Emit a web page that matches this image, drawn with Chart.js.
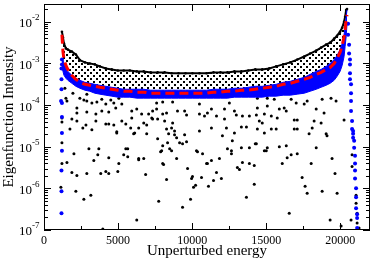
<!DOCTYPE html>
<html>
<head>
<meta charset="utf-8">
<script src="https://cdn.jsdelivr.net/npm/chart.js@4.4.0/dist/chart.umd.min.js"></script>
<style>
  body { margin: 0; background: #fff; }
  #wrap { width: 374px; height: 263px; }
</style>
</head>
<body>
<div id="wrap"><canvas id="c" width="374" height="263"></canvas></div>
<script>
// energy grid shared by the upper envelope, the blue band and the red curve
const gridEnergy = [1210,1280,1350,1480,1610, 1880,2150,2420,2760,3090, 3430,3770,4170,4570,4980,
  5380,5790,6260,6730,7200, 7670,8140,8610,9080,9550, 10020,10490,10970,11440,11910,
  12380,12850,13320,13790,14260, 14730,15200,15670,16140,16620, 17090,17560,17960,18370,18700,
  19040,19310,19580,19780,19980, 20120,20250,20320,20390,20450];

// top of the black cloud
const envelope = [5.8e-3,4.2e-3,3.0e-3,2.3e-3,2.15e-3, 1.93e-3,1.64e-3,1.2e-3,1.06e-3,1.0e-3,
  9.5e-4,8.5e-4,7.6e-4,7.2e-4,6.8e-4, 6.8e-4,6.8e-4,6.45e-4,6.45e-4,6.1e-4,
  6.1e-4,6.1e-4,5.8e-4,5.8e-4,5.8e-4, 5.8e-4,5.8e-4,5.8e-4,6.1e-4,6.1e-4,
  6.1e-4,6.45e-4,6.45e-4,6.8e-4,7.2e-4, 7.2e-4,7.6e-4,8.5e-4,9.5e-4,1.06e-3,
  1.24e-3,1.47e-3,1.73e-3,2.04e-3,2.4e-3, 2.83e-3,3.16e-3,3.94e-3,4.64e-3,5.8e-3,
  7.2e-3,1.0e-2,1.32e-2,1.93e-2,2.04e-2];

// blue band (upper and lower edge)
const bandTop = [1.3e-3,1.2e-3,1.0e-3,7.6e-4,6.45e-4, 5.18e-4,4.4e-4,3.94e-4,3.53e-4,3.34e-4,
  3.16e-4,2.99e-4,2.83e-4,2.68e-4,2.54e-4, 2.4e-4,2.4e-4,2.4e-4,2.4e-4,2.28e-4,
  2.28e-4,2.28e-4,2.28e-4,2.28e-4,2.28e-4, 2.28e-4,2.28e-4,2.28e-4,2.4e-4,2.4e-4,
  2.4e-4,2.54e-4,2.54e-4,2.68e-4,2.83e-4, 2.83e-4,2.99e-4,3.16e-4,3.53e-4,3.73e-4,
  4.16e-4,4.64e-4,5.47e-4,6.45e-4,7.2e-4, 8.48e-4,1.0e-3,1.24e-3,1.55e-3,2.15e-3,
  2.99e-3,4.9e-3,7.6e-3,1.32e-2,1.93e-2];
const bandBottom = [8.0e-4,6.45e-4,5.18e-4,4.4e-4,3.94e-4, 3.34e-4,2.83e-4,2.54e-4,2.28e-4,2.15e-4,
  1.93e-4,1.83e-4,1.73e-4,1.64e-4,1.55e-4, 1.55e-4,1.55e-4,1.47e-4,1.47e-4,1.47e-4,
  1.47e-4,1.47e-4,1.47e-4,1.47e-4,1.47e-4, 1.47e-4,1.47e-4,1.47e-4,1.47e-4,1.47e-4,
  1.47e-4,1.55e-4,1.55e-4,1.55e-4,1.55e-4, 1.55e-4,1.64e-4,1.64e-4,1.73e-4,1.73e-4,
  1.83e-4,1.93e-4,2.15e-4,2.4e-4,2.68e-4, 2.99e-4,3.34e-4,3.94e-4,4.9e-4,6.45e-4,
  8.96e-4,1.47e-3,2.54e-3,4.4e-3,8.96e-3];

// red dashed curve
const redCurve = [4.9e-3,1.93e-3,1.24e-3,8.96e-4,7.2e-4, 5.18e-4,4.16e-4,3.53e-4,3.16e-4,2.99e-4,
  2.83e-4,2.68e-4,2.54e-4,2.4e-4,2.28e-4, 2.15e-4,2.15e-4,2.04e-4,2.04e-4,1.93e-4,
  1.93e-4,1.93e-4,1.93e-4,1.93e-4,1.93e-4, 1.93e-4,1.93e-4,1.93e-4,2.04e-4,2.04e-4,
  2.15e-4,2.15e-4,2.28e-4,2.28e-4,2.4e-4, 2.54e-4,2.68e-4,2.83e-4,3.16e-4,3.34e-4,
  3.73e-4,4.16e-4,4.64e-4,5.47e-4,6.11e-4, 7.2e-4,8.03e-4,1.0e-3,1.32e-3,1.83e-3,
  2.68e-3,4.4e-3,6.45e-3,1.12e-2,1.47e-2];

// blue points falling off at both ends
const blueEnds = [
  [1210,1.24e-3],[1210,9.5e-4],[1180,7.6e-4],[1180,4.16e-4],[1180,2.4e-4],[1150,1.25e-4],
  [1210,1.12e-4],[1210,5.18e-5],[1210,2.15e-5],[1210,8.03e-6],[1180,2.68e-6],[1180,8.48e-7],[1180,2.54e-7],
  [20520,8.96e-3],[20520,4.9e-3],[20590,2.83e-3],[20590,1.73e-3],[20650,1.24e-3],[20650,9.46e-4],
  [20650,5.78e-4],[20650,4.16e-4],[20720,3.16e-4],[20720,1.93e-4],[20720,1.25e-4],[20720,7.2e-5],
  [20790,4.16e-5],[20790,2.68e-5],[20860,2.4e-5],[20860,2.04e-5],[20860,1.64e-5],[20930,1.39e-5],
  [20930,9.47e-6],[20990,6.11e-6],[20990,3.94e-6],[20990,2.68e-6],[20990,1.73e-6],[21060,1.0e-6],
  [21060,6.11e-7],[21060,3.34e-7],[21130,2.4e-7],[21130,1.93e-7],[21130,1.12e-7]
];

// scattered black points below the band
const blackScatter = [
  [1480,1.47e-4],[2690,1.32e-4],[2890,1.25e-4],[3230,1.12e-4],[3570,1.18e-4],[3900,1.39e-4],[4170,1.06e-4],
  [4510,1.32e-4],[4710,1.12e-4],[5050,1.47e-4],[2220,6.45e-5],[2890,6.81e-5],[3500,6.11e-5],[3900,7.2e-5],
  [4370,6.81e-5],[4840,8.48e-5],[5250,1.06e-4],[5920,7.2e-5],[6260,8.03e-5],[6590,6.11e-5],[7060,6.11e-5],
  [7270,4.9e-5],[1210,3.94e-5],[2220,4.16e-5],[2830,3.34e-5],[3500,4.16e-5],[3230,2.54e-5],[4170,3.53e-5],
  [4370,3.53e-5],[4710,3.34e-5],[4910,2.28e-5],[5250,4.16e-5],[5520,3.53e-5],[5850,2.83e-5],[5920,4.9e-5],
  [6050,2.04e-5],[6390,2.83e-5],[6730,3.73e-5],[6930,3.34e-5],[1210,1.24e-5],[3030,8.96e-6],[3700,8.96e-6],
  [2020,6.81e-6],[5520,8.96e-6],[5380,6.45e-6],[4370,5.47e-6],[3360,4.64e-6],[1550,4.16e-6],[6390,5.18e-6],
  [6730,5.18e-6],[1210,3.94e-6],
  [7600,1.12e-4],[8010,1.18e-4],[8680,1.18e-4],[7330,7.2e-5],[7600,8.03e-5],[8010,6.11e-5],[8270,6.45e-5],
  [9010,7.2e-5],[9490,7.2e-5],[9620,5.78e-5],[10490,1.06e-4],[10490,6.11e-5],[10830,5.47e-5],[11030,6.45e-5],
  [11300,8.03e-5],[11640,5.47e-5],[12180,8.03e-5],[12510,1.12e-4],[12850,7.2e-5],[12180,4.64e-5],[12980,5.78e-5],
  [13390,5.47e-5],[13860,5.47e-5],[14330,5.78e-5],[7330,4.64e-5],[7670,4.64e-5],[8140,4.16e-5],[8680,3.73e-5],
  [8270,2.68e-5],[8610,2.83e-5],[8810,2.4e-5],[9490,1.93e-5],[10490,2.4e-5],[11300,2.83e-5],[12310,2.83e-5],
  [12850,2.15e-5],[13320,2.99e-5],[13660,2.99e-5],[14400,2.68e-5],[7670,1.55e-5],[8340,1.24e-5],[9150,1.24e-5],
  [9350,1.18e-5],[12040,1.83e-5],[12710,1.39e-5],[8010,1.06e-5],[8480,8.96e-6],[7940,8.03e-6],[8610,8.03e-6],
  [10290,8.03e-6],[10700,6.81e-6],[12380,8.96e-6],[12650,8.03e-6],[13320,9.47e-6],[13860,9.47e-6],[8950,5.18e-6],
  [11300,4.64e-6],[11840,5.18e-6],[13390,4.16e-6],[13860,3.94e-6],[8010,3.94e-6],[11030,3.94e-6],
  [14400,1.47e-4],[15070,1.47e-4],[15540,1.39e-4],[16680,1.39e-4],[17020,1.12e-4],[17560,1.06e-4],[17760,1.25e-4],
  [18770,1.39e-4],[19370,1.47e-4],[19710,1.25e-4],[14400,8.48e-5],[15070,9.47e-5],[15880,8.03e-5],[16210,8.48e-5],
  [16350,7.2e-5],[18370,8.03e-5],[18900,6.45e-5],[14870,6.11e-5],[15340,5.47e-5],[15740,4.9e-5],[14530,4.16e-5],
  [14730,3.73e-5],[16890,4.4e-5],[17090,4.4e-5],[18230,4.16e-5],[18700,3.73e-5],[20250,4.4e-5],[14870,2.15e-5],
  [15340,2.68e-5],[15670,2.68e-5],[16890,2.68e-5],[17090,2.68e-5],[18100,2.83e-5],[19040,2.04e-5],[19100,1.83e-5],
  [14330,1.18e-5],[15070,9.47e-6],[15880,1.0e-5],[16350,1.06e-5],[18370,9.47e-6],[15000,8.03e-6],[16410,5.47e-6],
  [16680,6.45e-6],[17090,6.81e-6],[19440,5.18e-6],[16080,3.94e-6],[18030,3.94e-6],
  [5050,3.94e-6],[1880,2.4e-6],[2220,2.04e-6],[2890,2.28e-6],[3830,2.28e-6],[4170,2.54e-6],[4370,2.28e-6],
  [4980,2.54e-6],[6860,2.15e-6],[1140,1.06e-6],[2150,8.48e-7],[3160,6.81e-7],[2690,5.47e-7],[6260,1.73e-7],
  [3970,1.06e-7],[4910,2.15e-5],[5650,8.96e-6],[5650,5.78e-6],[3630,6.45e-6],
  [8070,3.73e-6],[9690,2.99e-6],[10970,3.94e-6],[13050,3.16e-6],[13190,2.83e-6],[14190,3.53e-6],[8270,1.64e-6],
  [10020,1.93e-6],[9960,1.73e-6],[10630,1.83e-6],[11640,2.4e-6],[11970,1.73e-6],[11440,1.55e-6],[10230,1.18e-6],
  [10090,1.06e-6],[11100,1.12e-6],[14190,1.25e-6],[7740,4.9e-7],[9890,5.47e-7],[9350,3.53e-7],[13660,6.11e-7],
  [6120,2.15e-5],[6930,2.04e-5],[7870,7.6e-6],[8410,2.04e-5],[8950,1.64e-5],[8810,1.93e-5],[9620,1.32e-5],
  [6390,4.9e-6],[10360,7.6e-6],[12650,6.81e-6],[14260,1.18e-5],
  [14870,8.03e-6],[17890,2.04e-5],[19640,2.28e-6],[17420,1.83e-6],[17620,1.12e-6],[17760,7.6e-7],[18770,8.48e-7],
  [19780,7.6e-7],[16550,2.54e-7],[19310,1.73e-7],[20050,1.25e-7],
  [1410,2.54e-4],[1950,1.93e-4],[2420,1.47e-4],[1550,1.25e-4],[2890,1.83e-4],[2220,8.48e-5],[1210,4.9e-5],
  [1880,4.64e-5],[2620,2.83e-5],[1750,2.68e-5],
  [20720,1.73e-7],[20790,6.45e-6],[20790,3.34e-6],[21060,6.81e-7],[21060,4.4e-7],[21130,2.54e-7],
  [21130,1.47e-7],[21260,1.12e-7]
];

const xMajor = [0, 5000, 10000, 15000, 20000];
const xMinor = [2500, 7500, 12500, 17500];
const yExponents = [-7, -6, -5, -4, -3, -2];

const toPts = (xs, ys) => xs.map((x, i) => ({ x: x, y: ys[i] }));
const pairPts = list => list.map(p => ({ x: p[0], y: p[1] }));

// dotted texture for the dense black region between envelope and band
const tile = document.createElement('canvas');
tile.width = 6; tile.height = 6;
const tctx = tile.getContext('2d');
tctx.fillStyle = '#000';
tctx.fillRect(0, 0, 2, 2);
tctx.fillRect(3, 3, 2, 2);
const dots = tctx.createPattern(tile, 'repeat');

const serif = '"Liberation Serif", "Times New Roman", serif';

// frame, inward ticks and labels (xmgrace look)
const frame = {
  id: 'frame',
  afterDraw(chart) {
    const { ctx, chartArea: a, scales: { x, y } } = chart;
    ctx.save();
    ctx.strokeStyle = '#000';
    ctx.lineWidth = 1;
    ctx.strokeRect(a.left + 0.5, a.top + 0.5, a.right - a.left - 1, a.bottom - a.top - 1);

    ctx.beginPath();
    const xTick = (v, len) => {
      const px = Math.round(x.getPixelForValue(v)) + 0.5;
      ctx.moveTo(px, a.bottom); ctx.lineTo(px, a.bottom - len);
      ctx.moveTo(px, a.top); ctx.lineTo(px, a.top + len);
    };
    const yTick = (v, len) => {
      const py = Math.round(y.getPixelForValue(v)) + 0.5;
      ctx.moveTo(a.left, py); ctx.lineTo(a.left + len, py);
      ctx.moveTo(a.right, py); ctx.lineTo(a.right - len, py);
    };
    xMajor.forEach(v => xTick(v, 7));
    xMinor.forEach(v => xTick(v, 4));
    yExponents.forEach(e => {
      yTick(Math.pow(10, e), 7);
      for (let k = 2; k <= 9; k++) {
        const v = k * Math.pow(10, e);
        if (v < y.max) yTick(v, 4);
      }
    });
    ctx.stroke();

    ctx.fillStyle = '#000';
    ctx.font = '12px ' + serif;
    ctx.textAlign = 'center';
    ctx.textBaseline = 'alphabetic';
    xMajor.forEach(v => ctx.fillText(String(v), x.getPixelForValue(v), 244));

    yExponents.forEach(e => {
      const py = y.getPixelForValue(Math.pow(10, e));
      ctx.textBaseline = 'middle';
      ctx.textAlign = 'right';
      ctx.font = '13px ' + serif;
      ctx.fillText('10', a.left - 12, py + 2);
      ctx.textAlign = 'left';
      ctx.font = '9px ' + serif;
      ctx.fillText('-' + Math.abs(e), a.left - 12, py - 4);
    });

    ctx.font = '15px ' + serif;
    ctx.textAlign = 'center';
    ctx.textBaseline = 'alphabetic';
    ctx.fillText('Unperturbed energy', (a.left + a.right) / 2, 255);
    ctx.translate(9, (a.top + a.bottom) / 2);
    ctx.rotate(-Math.PI / 2);
    ctx.textBaseline = 'middle';
    ctx.fillText('Eigenfunction Intensity', 0, 0);
    ctx.restore();
  }
};

new Chart(document.getElementById('c'), {
  type: 'line',
  data: {
    datasets: [
      { label: 'model', data: toPts(gridEnergy, redCurve), borderColor: '#ff0000', borderWidth: 3,
        borderDash: [9, 5], pointRadius: 0, fill: false, order: 0 },
      { label: 'band low', data: toPts(gridEnergy, bandBottom), borderColor: '#0000ff', borderWidth: 1,
        pointRadius: 0, fill: false, order: 1 },
      { label: 'band high', data: toPts(gridEnergy, bandTop), borderColor: '#0000ff', borderWidth: 1,
        pointRadius: 0, backgroundColor: '#0000ff', fill: '-1', order: 1 },
      { label: 'blue ends', data: pairPts(blueEnds), showLine: false, pointRadius: 2, pointBorderWidth: 0,
        pointBackgroundColor: '#0000ff', order: 2 },
      { label: 'envelope', data: toPts(gridEnergy, envelope), borderColor: '#000', borderWidth: 2,
        pointRadius: 1.3, pointBorderWidth: 0, pointBackgroundColor: '#000',
        backgroundColor: dots, fill: 2, order: 3 },
      { label: 'scatter', data: pairPts(blackScatter), showLine: false, pointRadius: 1.5, pointBorderWidth: 0,
        pointBackgroundColor: '#000', order: 4 }
    ]
  },
  options: {
    responsive: false,
    animation: false,
    layout: { padding: { left: 44, top: 2, right: 3, bottom: 33 } },
    elements: { line: { tension: 0 } },
    scales: {
      x: { type: 'linear', min: 0, max: 22000, display: false },
      y: { type: 'logarithmic', min: 1e-7, max: 0.0268, display: false }
    },
    plugins: { legend: { display: false }, tooltip: { enabled: false } }
  },
  plugins: [frame]
});
</script>
</body>
</html>
